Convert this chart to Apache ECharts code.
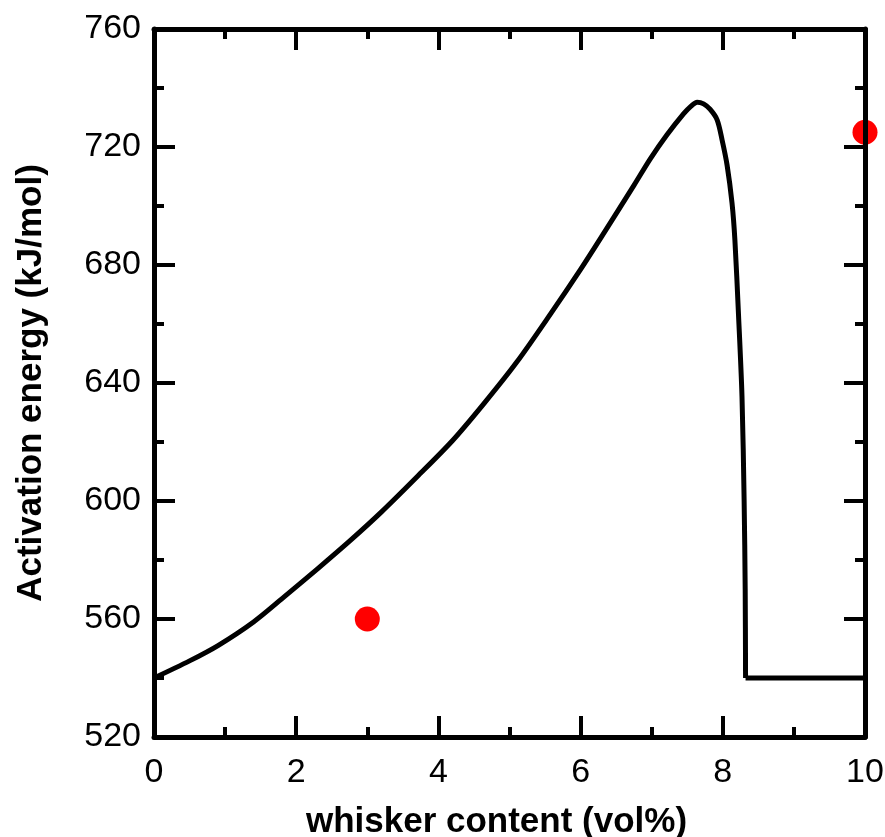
<!DOCTYPE html>
<html>
<head>
<meta charset="utf-8">
<script src="https://cdn.jsdelivr.net/npm/echarts@6/dist/echarts.min.js"></script>
<style>
  html, body { margin: 0; padding: 0; background: #fff; }
  #chart { width: 885px; height: 837px; }
</style>
</head>
<body>
<div id="chart"></div>
<script>
// model curve: whisker content (vol%) vs activation energy (kJ/mol)
var curveX = [0, 0.5, 0.9, 1.4, 1.83, 2.3, 2.77, 3.2, 3.7, 4.2, 4.64, 5.1, 5.58, 6.0, 6.28, 6.75, 6.98, 7.21, 7.45, 7.55, 7.64, 7.73, 7.82, 7.92, 7.99, 8.06, 8.13, 8.17, 8.22, 8.27, 8.30, 8.315, 8.32];
var curveY = [540, 545.8, 551, 559, 567.5, 577, 586.8, 596.3, 608.2, 620.5, 633, 647, 663.5, 678.5, 689, 707, 716, 724, 731.3, 733.8, 735.2, 734.6, 732.8, 729.2, 722.4, 713.9, 700.9, 688.5, 663.6, 635.4, 600, 570, 540];
// flat part after the drop
var flatX = [8.32, 10];
var flatY = [540, 540];
// measured points
var pointX = [3, 10];
var pointY = [560, 725];

var chart = echarts.init(document.getElementById('chart'));

var fontFamily = 'Liberation Sans, Arial, sans-serif';

function xAxisCfg(pos, showLabel) {
  return {
    type: 'value',
    position: pos,
    min: 0,
    max: 10,
    interval: 2,
    z: 5,
    name: showLabel ? 'whisker content (vol%)' : '',
    nameLocation: 'middle',
    nameGap: 68,
    nameTextStyle: { fontFamily: fontFamily, fontSize: 35, fontWeight: 'bold', color: '#000', padding: [0, 26, 0, 0] },
    axisLine: { show: true, onZero: false, lineStyle: { color: '#000', width: 5 } },
    axisTick: { show: true, inside: true, length: 21, lineStyle: { color: '#000', width: 4 } },
    minorTick: { show: true, splitNumber: 2, length: 10, lineStyle: { color: '#000', width: 4 } },
    axisLabel: { show: showLabel, margin: 19, fontFamily: fontFamily, fontSize: 34, color: '#000' },
    splitLine: { show: false }
  };
}

function yAxisCfg(pos, showLabel) {
  return {
    type: 'value',
    position: pos,
    min: 520,
    max: 760,
    interval: 40,
    z: 5,
    name: showLabel ? 'Activation energy (kJ/mol)' : '',
    nameLocation: 'middle',
    nameGap: 105,
    nameTextStyle: { fontFamily: fontFamily, fontSize: 35, fontWeight: 'bold', color: '#000' },
    axisLine: { show: true, onZero: false, lineStyle: { color: '#000', width: 5 } },
    axisTick: { show: true, inside: true, length: 21, lineStyle: { color: '#000', width: 4 } },
    minorTick: { show: true, splitNumber: 2, length: 10, lineStyle: { color: '#000', width: 4 } },
    axisLabel: { show: showLabel, margin: 13, fontFamily: fontFamily, fontSize: 34, color: '#000' },
    splitLine: { show: false }
  };
}

var option = {
  backgroundColor: '#fff',
  animation: false,
  grid: { left: 154, right: 20, top: 29, bottom: 100, containLabel: false, outerBoundsMode: 'none' },
  xAxis: [xAxisCfg('bottom', true), xAxisCfg('top', false)],
  yAxis: [yAxisCfg('left', true), yAxisCfg('right', false)],
  series: [
    {
      type: 'line',
      data: curveX.map(function (x, i) { return [x, curveY[i]]; }),
      showSymbol: false,
      symbol: 'none',
      smooth: 0.3,
      lineStyle: { color: '#000', width: 5, join: 'round' },
      z: 2
    },
    {
      type: 'line',
      data: flatX.map(function (x, i) { return [x, flatY[i]]; }),
      showSymbol: false,
      symbol: 'none',
      lineStyle: { color: '#000', width: 5 },
      z: 2
    },
    {
      type: 'scatter',
      data: pointX.map(function (x, i) { return [x, pointY[i]]; }),
      symbolSize: 25,
      itemStyle: { color: '#ff0000', opacity: 1 },
      clip: false,
      z: 3
    }
  ]
};

chart.setOption(option);
</script>
</body>
</html>
